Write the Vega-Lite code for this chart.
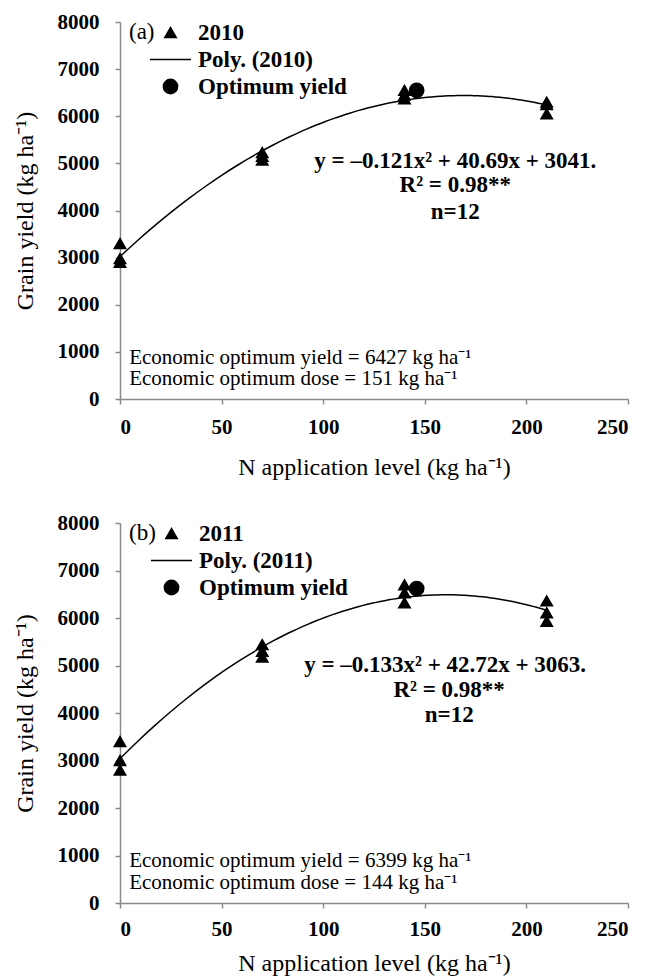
{
  "$schema": "https://vega.github.io/schema/vega-lite/v6.json",
  "padding": {"left": 13, "top": 11, "right": 5, "bottom": 2},
  "background": "white",
  "spacing": 33,
  "config": {
    "view": {"stroke": null},
    "font": "Liberation Serif",
    "axis": {
      "grid": false,
      "domainColor": "#8a8a8a",
      "tickColor": "#8a8a8a",
      "domainWidth": 1.5,
      "tickWidth": 1.5,
      "tickSize": 5,
      "labelFont": "Liberation Serif",
      "labelFontWeight": "bold",
      "labelFontSize": 21,
      "labelColor": "black",
      "titleFont": "Liberation Serif",
      "titleFontWeight": "normal",
      "titleFontSize": 24,
      "titleColor": "black",
      "format": "d"
    },
    "legend": {
      "labelFont": "Liberation Serif",
      "labelFontWeight": "bold",
      "labelFontSize": 23,
      "labelColor": "black",
      "titleFont": "Liberation Serif",
      "titleFontWeight": "normal",
      "titleFontSize": 23,
      "titleColor": "black"
    }
  },
  "datasets": {
    "pts2010": [
      {"N": 0, "yield": 3300, "series": "2010"},
      {"N": 0, "yield": 2980, "series": "2010"},
      {"N": 0, "yield": 2900, "series": "2010"},
      {"N": 70, "yield": 5230, "series": "2010"},
      {"N": 70, "yield": 5150, "series": "2010"},
      {"N": 70, "yield": 5070, "series": "2010"},
      {"N": 140, "yield": 6550, "series": "2010"},
      {"N": 140, "yield": 6450, "series": "2010"},
      {"N": 140, "yield": 6370, "series": "2010"},
      {"N": 210, "yield": 6300, "series": "2010"},
      {"N": 210, "yield": 6250, "series": "2010"},
      {"N": 210, "yield": 6050, "series": "2010"},
      {"N": 146, "yield": 6550, "series": "Optimum yield"}
    ],
    "pts2011": [
      {"N": 0, "yield": 3400, "series": "2011"},
      {"N": 0, "yield": 3000, "series": "2011"},
      {"N": 0, "yield": 2800, "series": "2011"},
      {"N": 70, "yield": 5440, "series": "2011"},
      {"N": 70, "yield": 5300, "series": "2011"},
      {"N": 70, "yield": 5180, "series": "2011"},
      {"N": 140, "yield": 6700, "series": "2011"},
      {"N": 140, "yield": 6530, "series": "2011"},
      {"N": 140, "yield": 6320, "series": "2011"},
      {"N": 210, "yield": 6360, "series": "2011"},
      {"N": 210, "yield": 6110, "series": "2011"},
      {"N": 210, "yield": 5930, "series": "2011"},
      {"N": 146, "yield": 6620, "series": "Optimum yield"}
    ],
    "eqA": [
      {"N": 165, "yield": 5040, "text": "y = –0.121x² + 40.69x + 3041."},
      {"N": 165, "yield": 4540, "text": "R² = 0.98**"},
      {"N": 165, "yield": 3970, "text": "n=12"}
    ],
    "ecoA": [
      {"N": 4.5, "yield": 880, "text": "Economic optimum yield = 6427 kg ha⁻¹"},
      {"N": 4.5, "yield": 420, "text": "Economic optimum dose = 151 kg ha⁻¹"}
    ],
    "eqB": [
      {"N": 160, "yield": 5017, "text": "y = –0.133x² + 42.72x + 3063."},
      {"N": 162, "yield": 4488, "text": "R² = 0.98**"},
      {"N": 162, "yield": 3959, "text": "n=12"}
    ],
    "ecoB": [
      {"N": 4.5, "yield": 880, "text": "Economic optimum yield = 6399 kg ha⁻¹"},
      {"N": 4.5, "yield": 420, "text": "Economic optimum dose = 144 kg ha⁻¹"}
    ]
  },
  "vconcat": [
    {
      "width": 508,
      "height": 377,
      "encoding": {
        "x": {"field": "N", "type": "quantitative", "scale": {"domain": [0, 250], "nice": false},
              "axis": {"values": [0, 50, 100, 150, 200, 250], "title": "N application level (kg ha⁻¹)", "labelPadding": 12, "titlePadding": 18}},
        "y": {"field": "yield", "type": "quantitative", "scale": {"domain": [0, 8000], "nice": false},
              "axis": {"values": [0, 1000, 2000, 3000, 4000, 5000, 6000, 7000, 8000], "title": "Grain yield (kg ha⁻¹)", "labelPadding": 16, "titlePadding": 20}}
      },
      "layer": [
        {
          "data": {"name": "pts2010"},
          "transform": [{"filter": "datum.series == '2010'"}, {"regression": "yield", "on": "N", "method": "poly", "order": 2, "extent": [0, 210]}],
          "mark": {"type": "line", "color": "black", "strokeWidth": 1.5, "interpolate": "monotone"},
          "encoding": {}
        },
        {
          "data": {"name": "pts2010"},
          "mark": {"type": "point", "filled": true, "color": "black", "stroke": "black", "strokeWidth": 1.5, "opacity": 1, "size": 130},
          "encoding": {
            "shape": {"field": "series", "type": "nominal",
              "scale": {"domain": ["2010", "Poly. (2010)", "Optimum yield"],
                        "range": ["triangle-up", "M-3.6,0L3.6,0", "M-1.25,0A1.25,1.25,0,1,1,1.25,0A1.25,1.25,0,1,1,-1.25,0Z"]},
              "legend": {"title": "(a)", "titleOrient": "left", "titleAnchor": "start", "titleBaseline": "top", "orient": "none", "legendX": 9, "legendY": -1,
                         "symbolSize": 130, "rowPadding": 3, "labelOffset": 16, "titlePadding": 4, "padding": 0,
                         "encode": {"symbols": {"update": {"stroke": {"value": "black"}, "strokeWidth": {"value": 1.5}, "fill": {"value": "black"}, "opacity": {"value": 1}}}}}}
          }
        },
        {
          "data": {"name": "eqA"},
          "mark": {"type": "text", "font": "Liberation Serif", "fontWeight": "bold", "fontSize": 23, "align": "center", "baseline": "middle", "color": "black"},
          "encoding": {"text": {"field": "text"}}
        },
        {
          "data": {"name": "ecoA"},
          "mark": {"type": "text", "font": "Liberation Serif", "fontWeight": "normal", "fontSize": 21, "align": "left", "baseline": "middle", "color": "black"},
          "encoding": {"text": {"field": "text"}}
        }
      ],
      "resolve": {"scale": {"shape": "independent"}}
    },
    {
      "width": 508,
      "height": 380,
      "encoding": {
        "x": {"field": "N", "type": "quantitative", "scale": {"domain": [0, 250], "nice": false},
              "axis": {"values": [0, 50, 100, 150, 200, 250], "title": "N application level (kg ha⁻¹)", "labelPadding": 10, "titlePadding": 12}},
        "y": {"field": "yield", "type": "quantitative", "scale": {"domain": [0, 8000], "nice": false},
              "axis": {"values": [0, 1000, 2000, 3000, 4000, 5000, 6000, 7000, 8000], "title": "Grain yield (kg ha⁻¹)", "labelPadding": 16, "titlePadding": 20}}
      },
      "layer": [
        {
          "data": {"name": "pts2011"},
          "transform": [{"filter": "datum.series == '2011'"}, {"regression": "yield", "on": "N", "method": "poly", "order": 2, "extent": [0, 210]}],
          "mark": {"type": "line", "color": "black", "strokeWidth": 1.5, "interpolate": "monotone"},
          "encoding": {}
        },
        {
          "data": {"name": "pts2011"},
          "mark": {"type": "point", "filled": true, "color": "black", "stroke": "black", "strokeWidth": 1.5, "opacity": 1, "size": 130},
          "encoding": {
            "shape": {"field": "series", "type": "nominal",
              "scale": {"domain": ["2011", "Poly. (2011)", "Optimum yield"],
                        "range": ["triangle-up", "M-3.6,0L3.6,0", "M-1.25,0A1.25,1.25,0,1,1,1.25,0A1.25,1.25,0,1,1,-1.25,0Z"]},
              "legend": {"title": "(b)", "titleOrient": "left", "titleAnchor": "start", "titleBaseline": "top", "orient": "none", "legendX": 9, "legendY": -1,
                         "symbolSize": 130, "rowPadding": 3, "labelOffset": 16, "titlePadding": 4, "padding": 0,
                         "encode": {"symbols": {"update": {"stroke": {"value": "black"}, "strokeWidth": {"value": 1.5}, "fill": {"value": "black"}, "opacity": {"value": 1}}}}}}
          }
        },
        {
          "data": {"name": "eqB"},
          "mark": {"type": "text", "font": "Liberation Serif", "fontWeight": "bold", "fontSize": 23, "align": "center", "baseline": "middle", "color": "black"},
          "encoding": {"text": {"field": "text"}}
        },
        {
          "data": {"name": "ecoB"},
          "mark": {"type": "text", "font": "Liberation Serif", "fontWeight": "normal", "fontSize": 21, "align": "left", "baseline": "middle", "color": "black"},
          "encoding": {"text": {"field": "text"}}
        }
      ],
      "resolve": {"scale": {"shape": "independent"}}
    }
  ],
  "resolve": {"scale": {"shape": "independent"}, "legend": {"shape": "independent"}}
}
